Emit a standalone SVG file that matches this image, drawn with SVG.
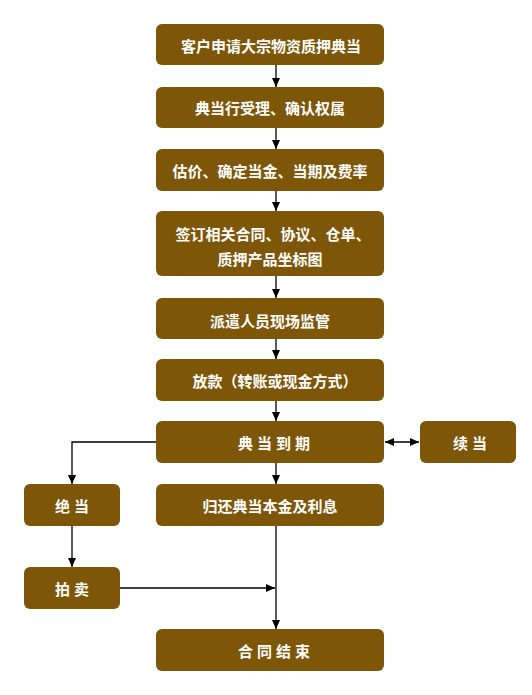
<svg xmlns="http://www.w3.org/2000/svg" width="532" height="695" viewBox="0 0 532 695">
<style>
.box{fill:#7d5608;}
.t{fill:#fff;font-family:"Noto Sans CJK SC","Noto Sans",sans-serif;font-weight:bold;font-size:15px;text-anchor:middle;dominant-baseline:central;}
.sp{letter-spacing:4px;}
.c{stroke:#000;stroke-width:1.3;fill:none;}
</style>
<defs>
<marker id="ah" markerWidth="10" markerHeight="10" refX="9" refY="5" orient="auto" markerUnits="userSpaceOnUse">
<path d="M0,1 L9,5 L0,9 Z" fill="#000"/>
</marker>
<marker id="as" markerWidth="10" markerHeight="10" refX="1" refY="5" orient="auto" markerUnits="userSpaceOnUse">
<path d="M10,1 L1,5 L10,9 Z" fill="#000"/>
</marker>
</defs>
<rect width="532" height="695" fill="#fff"/>
<g id="connectors">
<line class="c" x1="276" y1="65" x2="276" y2="87" marker-end="url(#ah)"/>
<line class="c" x1="276" y1="128" x2="276" y2="149" marker-end="url(#ah)"/>
<line class="c" x1="276" y1="191" x2="276" y2="211" marker-end="url(#ah)"/>
<line class="c" x1="276" y1="276" x2="276" y2="298" marker-end="url(#ah)"/>
<line class="c" x1="276" y1="339" x2="276" y2="359" marker-end="url(#ah)"/>
<line class="c" x1="276" y1="401" x2="276" y2="421" marker-end="url(#ah)"/>
<line class="c" x1="276" y1="463" x2="276" y2="484" marker-end="url(#ah)"/>
<line class="c" x1="276" y1="526" x2="276" y2="629" marker-end="url(#ah)"/>
<line class="c" x1="385" y1="442" x2="419" y2="442" marker-start="url(#as)" marker-end="url(#ah)"/>
<polyline class="c" points="156,442 72,442 72,484" marker-end="url(#ah)"/>
<line class="c" x1="72" y1="526" x2="72" y2="567" marker-end="url(#ah)"/>
<line class="c" x1="120" y1="588" x2="275" y2="588" marker-end="url(#ah)"/>
</g>
<g id="n1"><rect class="box" x="156" y="24" width="228" height="41" rx="6"/><text class="t" x="271" y="45">客户申请大宗物资质押典当</text></g>
<g id="n2"><rect class="box" x="156" y="87" width="228" height="41" rx="6"/><text class="t" x="270" y="107">典当行受理、确认权属</text></g>
<g id="n3"><rect class="box" x="156" y="149" width="228" height="42" rx="6"/><text class="t" x="270" y="170">估价、确定当金、当期及费率</text></g>
<g id="n4"><rect class="box" x="156" y="211" width="228" height="65" rx="6"/><text class="t" x="273" y="233">签订相关合同、协议、仓单、</text><text class="t" x="270" y="258">质押产品坐标图</text></g>
<g id="n5"><rect class="box" x="156" y="298" width="228" height="41" rx="6"/><text class="t" x="270" y="320">派遣人员现场监管</text></g>
<g id="n6"><rect class="box" x="156" y="359" width="228" height="42" rx="6"/><text class="t" x="275" y="380">放款（转账或现金方式）</text></g>
<g id="n7"><rect class="box" x="156" y="421" width="228" height="42" rx="6"/><text class="t sp" x="276" y="442">典当到期</text></g>
<g id="n8"><rect class="box" x="420" y="421" width="96" height="42" rx="6"/><text class="t sp" x="472" y="442">续当</text></g>
<g id="n9"><rect class="box" x="24" y="484" width="96" height="42" rx="6"/><text class="t sp" x="74" y="505">绝当</text></g>
<g id="n10"><rect class="box" x="156" y="484" width="228" height="42" rx="6"/><text class="t" x="270" y="505">归还典当本金及利息</text></g>
<g id="n11"><rect class="box" x="24" y="567" width="96" height="42" rx="6"/><text class="t sp" x="74" y="588">拍卖</text></g>
<g id="n12"><rect class="box" x="156" y="629" width="228" height="42" rx="6"/><text class="t sp" x="276" y="650">合同结束</text></g>
</svg>
